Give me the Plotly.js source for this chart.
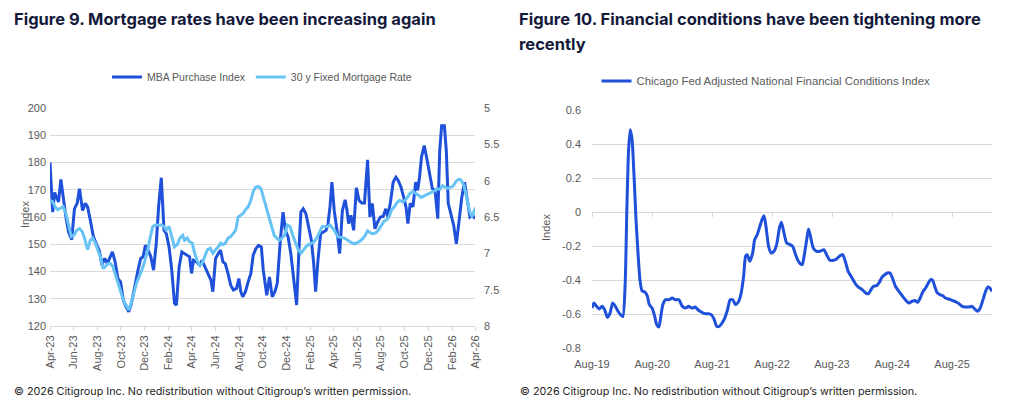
<!DOCTYPE html>
<html>
<head>
<meta charset="utf-8">
<script src="https://cdn.plot.ly/plotly-3.0.1.min.js"></script>
<style>
html,body{margin:0;padding:0;background:#fff;}
#chart{width:1024px;height:399px;}
</style>
</head>
<body>
<div id="chart"></div>
<script>
// ---------- Figure 9 data ----------
const mbaDates = ["2023-04-01","2023-04-08","2023-04-13","2023-04-18","2023-04-23","2023-04-29","2023-05-06","2023-05-12","2023-05-19","2023-05-27","2023-06-03","2023-06-10","2023-06-16","2023-06-24","2023-07-01","2023-07-07","2023-07-14","2023-07-22","2023-07-31","2023-08-06","2023-08-13","2023-08-20","2023-08-27","2023-09-03","2023-09-09","2023-09-16","2023-09-23","2023-09-30","2023-10-07","2023-10-14","2023-10-21","2023-10-28","2023-11-05","2023-11-14","2023-11-21","2023-11-27","2023-12-03","2023-12-10","2023-12-17","2023-12-24","2023-12-31","2024-01-06","2024-01-13","2024-01-20","2024-01-26","2024-02-02","2024-02-09","2024-02-16","2024-02-21","2024-02-28","2024-03-06","2024-03-13","2024-03-20","2024-03-26","2024-03-31","2024-04-05","2024-04-13","2024-04-21","2024-04-27","2024-05-04","2024-05-13","2024-05-20","2024-05-25","2024-06-01","2024-06-08","2024-06-14","2024-06-20","2024-06-26","2024-07-03","2024-07-10","2024-07-17","2024-07-25","2024-07-31","2024-08-05","2024-08-10","2024-08-17","2024-08-24","2024-08-31","2024-09-06","2024-09-13","2024-09-20","2024-09-27","2024-10-02","2024-10-11","2024-10-18","2024-10-25","2024-11-01","2024-11-07","2024-11-15","2024-11-22","2024-11-28","2024-12-05","2024-12-12","2024-12-20","2024-12-27","2025-01-02","2025-01-07","2025-01-13","2025-01-20","2025-01-27","2025-02-03","2025-02-09","2025-02-14","2025-02-20","2025-02-27","2025-03-06","2025-03-13","2025-03-18","2025-03-23","2025-03-28","2025-04-03","2025-04-10","2025-04-17","2025-04-24","2025-05-01","2025-05-06","2025-05-10","2025-05-16","2025-05-23","2025-05-30","2025-06-06","2025-06-13","2025-06-20","2025-06-28","2025-07-04","2025-07-10","2025-07-17","2025-07-24","2025-07-31","2025-08-07","2025-08-14","2025-08-19","2025-08-26","2025-09-02","2025-09-09","2025-09-15","2025-09-22","2025-09-29","2025-10-05","2025-10-10","2025-10-16","2025-10-23","2025-10-30","2025-11-04","2025-11-09","2025-11-14","2025-11-21","2025-11-28","2025-12-05","2025-12-12","2025-12-19","2025-12-26","2025-12-31","2026-01-05","2026-01-12","2026-01-17","2026-01-22","2026-01-29","2026-02-05","2026-02-12","2026-02-19","2026-02-26","2026-03-05","2026-03-12","2026-03-19","2026-03-26","2026-04-01"];
const mbaIndex = [180,161.8,169,167,165.5,173.8,166,160,154.5,151.7,163,165,170.4,162.4,165,163.7,158.8,152.7,149.6,147.8,142.3,144.8,143,145.4,147.2,143.5,137.4,136.2,129.5,127,125.2,128.3,134.4,140.5,144.8,145.4,149.6,147.8,145.4,140.5,150.2,163.7,174.4,155.1,153.9,149,140.5,128.3,127.7,141.7,147.2,146.6,146,145.4,139.3,144.1,143.5,142.3,144.1,141.7,139.3,136.8,132.6,144.8,146.6,147.8,143.5,142.9,139.3,135,133.2,133.8,137.4,132.6,130.7,132.6,136.2,139.3,146,148.4,149.6,149,140.5,131.3,138,130.7,132.6,135.6,151.5,161.8,155.1,152.7,146.6,136.8,127.7,147.8,161.8,163,161.2,156.3,151.5,142.9,132.6,144.1,153.9,154.5,155.1,157.6,163.7,172.8,162.4,155.1,146.6,162.4,166.3,162.4,157.6,160.6,155.1,170.7,166.1,165.1,165.1,181,160,165,155.7,158.2,160,160.2,163,160,165.5,172.8,174.6,173.4,171,167.3,163.7,157.6,165,163.7,172.8,169.8,174.6,182,186.2,181.3,175.2,170.4,169.8,159.4,184.4,193.5,193.5,184.4,165,161.2,157,150.2,158.8,167.3,172.8,166.1,160,160.6,159.4];

const rateDates = ["2023-04-01","2023-04-08","2023-04-14","2023-04-21","2023-04-28","2023-05-05","2023-05-12","2023-05-19","2023-05-26","2023-06-02","2023-06-09","2023-06-16","2023-06-23","2023-06-29","2023-07-07","2023-07-14","2023-07-20","2023-07-27","2023-08-03","2023-08-09","2023-08-16","2023-08-22","2023-08-29","2023-09-04","2023-09-10","2023-09-16","2023-09-23","2023-09-30","2023-10-07","2023-10-14","2023-10-21","2023-10-28","2023-11-04","2023-11-10","2023-11-17","2023-11-24","2023-12-01","2023-12-08","2023-12-15","2023-12-22","2023-12-29","2024-01-06","2024-01-13","2024-01-20","2024-01-26","2024-02-02","2024-02-09","2024-02-16","2024-02-23","2024-03-01","2024-03-08","2024-03-13","2024-03-20","2024-03-26","2024-04-02","2024-04-08","2024-04-15","2024-04-21","2024-04-27","2024-05-04","2024-05-11","2024-05-18","2024-05-25","2024-06-01","2024-06-08","2024-06-14","2024-06-20","2024-06-26","2024-07-03","2024-07-10","2024-07-17","2024-07-23","2024-07-29","2024-08-05","2024-08-11","2024-08-17","2024-08-24","2024-08-31","2024-09-06","2024-09-12","2024-09-19","2024-09-26","2024-10-02","2024-10-09","2024-10-16","2024-10-23","2024-10-30","2024-11-06","2024-11-12","2024-11-19","2024-11-26","2024-12-03","2024-12-10","2024-12-17","2024-12-24","2024-12-31","2025-01-07","2025-01-13","2025-01-20","2025-01-27","2025-02-03","2025-02-10","2025-02-17","2025-02-24","2025-03-03","2025-03-10","2025-03-16","2025-03-23","2025-04-03","2025-04-12","2025-04-21","2025-04-29","2025-05-08","2025-05-16","2025-05-25","2025-06-03","2025-06-11","2025-06-20","2025-06-28","2025-07-05","2025-07-12","2025-07-19","2025-07-26","2025-08-02","2025-08-09","2025-08-16","2025-08-22","2025-08-29","2025-09-05","2025-09-12","2025-09-19","2025-09-26","2025-10-03","2025-10-10","2025-10-16","2025-10-23","2025-10-30","2025-11-06","2025-11-13","2025-11-20","2025-11-27","2025-12-04","2025-12-11","2025-12-18","2025-12-24","2025-12-31","2026-01-07","2026-01-14","2026-01-21","2026-01-28","2026-02-04","2026-02-11","2026-02-18","2026-02-24","2026-03-03","2026-03-10","2026-03-17","2026-03-24","2026-03-31","2026-04-05"];
const rateValues = [6.27,6.29,6.36,6.40,6.38,6.36,6.45,6.63,6.77,6.75,6.68,6.66,6.70,6.79,6.95,6.82,6.79,6.86,6.95,7.05,7.21,7.18,7.14,7.14,7.18,7.28,7.39,7.53,7.64,7.71,7.78,7.67,7.53,7.41,7.32,7.23,7.11,6.98,6.79,6.63,6.61,6.61,6.61,6.63,6.68,6.63,6.79,6.91,6.88,6.79,6.75,6.82,6.79,6.84,6.86,7.0,7.11,7.16,7.14,7.05,6.95,6.93,7.0,6.95,6.91,6.86,6.88,6.86,6.79,6.77,6.72,6.68,6.50,6.47,6.45,6.40,6.36,6.27,6.15,6.09,6.08,6.11,6.22,6.36,6.50,6.63,6.75,6.79,6.82,6.79,6.75,6.61,6.63,6.75,6.86,6.95,7.0,6.95,6.91,6.88,6.86,6.84,6.79,6.70,6.63,6.63,6.63,6.61,6.68,6.77,6.78,6.79,6.82,6.85,6.87,6.85,6.82,6.77,6.69,6.72,6.73,6.72,6.68,6.61,6.56,6.54,6.50,6.40,6.36,6.30,6.27,6.29,6.27,6.22,6.17,6.15,6.17,6.20,6.23,6.21,6.20,6.18,6.15,6.14,6.11,6.12,6.07,6.09,6.11,6.09,6.07,6.01,5.98,5.99,6.06,6.22,6.40,6.50,6.40,6.36];

// ---------- Figure 10 data ----------
const nfciDates = ["2019-08-01","2019-08-13","2019-08-29","2019-09-15","2019-10-01","2019-10-17","2019-11-03","2019-11-19","2019-12-05","2019-12-21","2020-01-07","2020-01-23","2020-02-05","2020-02-19","2020-02-29","2020-03-11","2020-03-21","2020-04-01","2020-04-13","2020-04-25","2020-05-07","2020-05-19","2020-06-01","2020-06-17","2020-07-03","2020-07-15","2020-08-01","2020-08-17","2020-08-29","2020-09-11","2020-09-23","2020-10-05","2020-10-21","2020-11-11","2020-12-01","2020-12-21","2021-01-11","2021-02-01","2021-02-21","2021-03-11","2021-04-01","2021-04-21","2021-05-07","2021-05-27","2021-06-17","2021-07-07","2021-07-27","2021-08-13","2021-08-29","2021-09-15","2021-10-01","2021-10-17","2021-11-03","2021-11-19","2021-12-05","2021-12-21","2022-01-07","2022-01-23","2022-02-09","2022-02-21","2022-03-03","2022-03-19","2022-04-05","2022-04-17","2022-05-03","2022-05-19","2022-06-01","2022-06-13","2022-06-25","2022-07-11","2022-07-27","2022-08-13","2022-08-29","2022-09-15","2022-09-27","2022-10-13","2022-10-29","2022-11-19","2022-12-05","2022-12-19","2023-01-03","2023-01-19","2023-02-01","2023-02-12","2023-02-28","2023-03-11","2023-03-23","2023-04-09","2023-04-29","2023-05-19","2023-06-13","2023-06-29","2023-07-19","2023-08-09","2023-08-29","2023-09-19","2023-10-05","2023-10-21","2023-11-07","2023-11-23","2023-12-09","2023-12-25","2024-01-11","2024-01-27","2024-02-12","2024-02-28","2024-03-11","2024-03-23","2024-04-09","2024-04-29","2024-05-15","2024-06-01","2024-06-17","2024-07-03","2024-07-19","2024-08-05","2024-08-21","2024-09-11","2024-10-01","2024-10-21","2024-11-11","2024-12-01","2024-12-17","2025-01-03","2025-01-19","2025-02-05","2025-02-21","2025-03-07","2025-03-23","2025-04-05","2025-04-17","2025-05-03","2025-05-19","2025-06-05","2025-06-21","2025-07-11","2025-08-01","2025-08-21","2025-09-11","2025-10-01","2025-10-21","2025-11-11","2025-12-01","2025-12-17","2026-01-03","2026-01-19","2026-02-05","2026-02-21","2026-03-07","2026-03-19","2026-04-01"];
const nfciValues = [-0.565,-0.535,-0.555,-0.57,-0.555,-0.575,-0.62,-0.595,-0.535,-0.555,-0.585,-0.605,-0.615,-0.42,0.01,0.37,0.484,0.425,0.21,-0.045,-0.24,-0.40,-0.465,-0.47,-0.495,-0.545,-0.565,-0.615,-0.663,-0.676,-0.614,-0.545,-0.516,-0.516,-0.506,-0.516,-0.516,-0.555,-0.565,-0.555,-0.565,-0.559,-0.575,-0.588,-0.598,-0.598,-0.604,-0.63,-0.672,-0.672,-0.653,-0.624,-0.575,-0.516,-0.516,-0.545,-0.531,-0.486,-0.378,-0.26,-0.251,-0.29,-0.241,-0.163,-0.133,-0.084,-0.045,-0.022,-0.084,-0.202,-0.241,-0.231,-0.192,-0.094,-0.061,-0.124,-0.182,-0.192,-0.202,-0.241,-0.28,-0.304,-0.31,-0.261,-0.163,-0.10,-0.143,-0.212,-0.231,-0.231,-0.222,-0.251,-0.284,-0.284,-0.276,-0.257,-0.251,-0.29,-0.349,-0.375,-0.402,-0.427,-0.443,-0.453,-0.467,-0.48,-0.48,-0.461,-0.437,-0.433,-0.414,-0.382,-0.369,-0.359,-0.359,-0.394,-0.437,-0.467,-0.492,-0.516,-0.535,-0.525,-0.52,-0.531,-0.506,-0.467,-0.447,-0.422,-0.398,-0.402,-0.437,-0.476,-0.486,-0.492,-0.506,-0.512,-0.52,-0.527,-0.539,-0.555,-0.559,-0.559,-0.555,-0.571,-0.584,-0.565,-0.516,-0.467,-0.441,-0.447,-0.467];

const nfciTickVals = [-0.8,-0.6,-0.4,-0.2,0,0.2,0.4,0.6];
const nfciTickText = ["-0.8","-0.6","-0.4","-0.2","0","0.2","0.4","0.6"];

const DARK = "#1f50da";
const LIGHT = "#68c3f5";
const GRID = "#d9d9d9";
const TXT = "#595959";
const TICKFONT = {family: "Liberation Sans, Arial, sans-serif", size: 11, color: TXT};
const LEGFONT = {family: "Liberation Sans, Arial, sans-serif", size: 10.5, color: TXT};
const LEGFONT2 = {family: "Liberation Sans, Arial, sans-serif", size: 11.4, color: TXT};
const TITLEFONT = {family: "Inter, Open Sans, sans-serif", size: 16.5, color: "#141a3c", weight: 700};
const FOOTFONT = {family: "Inter, Open Sans, sans-serif", size: 10.8, color: "#1e1e1e"};

const W = 1024, H = 399;
const px = v => v / W;
const py = v => 1 - v / H;

// right chart y-domain and zero-line position
const y3dom = [py(348), py(110)];
const y3range = [-0.8, 0.6];
const zeroPos = y3dom[0] + (y3dom[1] - y3dom[0]) * (0 - y3range[0]) / (y3range[1] - y3range[0]);

const traces = [
  {x: mbaDates, y: mbaIndex, type: "scatter", mode: "lines", name: "MBA Purchase Index",
   line: {color: DARK, width: 3}, xaxis: "x", yaxis: "y", legend: "legend"},
  {x: rateDates, y: rateValues, type: "scatter", mode: "lines", name: "30 y Fixed Mortgage Rate",
   line: {color: LIGHT, width: 3}, xaxis: "x", yaxis: "y2", legend: "legend"},
  {x: nfciDates, y: nfciValues, type: "scatter", mode: "lines", name: "Chicago Fed Adjusted National Financial Conditions Index",
   line: {color: DARK, width: 3, shape: "spline", smoothing: 0.6}, xaxis: "x3", yaxis: "y3", legend: "legend2"}
];

const layout = {
  width: W, height: H,
  margin: {l: 0, r: 0, t: 0, b: 0},
  paper_bgcolor: "#fff", plot_bgcolor: "#fff",
  showlegend: true,
  xaxis: {
    domain: [px(50), px(475)], anchor: "y", type: "date",
    range: ["2023-04-01", "2026-04-01"], tick0: "2023-04-01", dtick: "M2",
    tickformat: "%b-%y", tickangle: -90, ticks: "outside", ticklen: 4, tickcolor: GRID,
    showline: true, linecolor: GRID, linewidth: 1, showgrid: false, zeroline: false,
    tickfont: TICKFONT
  },
  yaxis: {
    domain: [py(326), py(108)], anchor: "x", range: [120, 200], dtick: 10,
    gridcolor: GRID, gridwidth: 1, zeroline: false, showline: false, ticks: "",
    tickfont: TICKFONT, ticklabelstandoff: 3
  },
  yaxis2: {
    overlaying: "y", side: "right", anchor: "x", range: [8, 5], dtick: 0.5,
    showgrid: false, zeroline: false, showline: false, ticks: "",
    tickfont: TICKFONT, ticklabelstandoff: 8
  },
  xaxis3: {
    domain: [px(592), px(992)], anchor: "free", position: zeroPos, type: "date",
    range: ["2019-08-01", "2026-04-01"], tick0: "2019-08-01", dtick: "M12",
    tickformat: "%b-%y", ticks: "outside", ticklen: 4, tickcolor: GRID,
    showline: false, showgrid: false, zeroline: false,
    tickfont: TICKFONT, ticklabelstandoff: 138
  },
  yaxis3: {
    domain: y3dom, anchor: "x3", range: y3range,
    tickvals: nfciTickVals, ticktext: nfciTickText,
    gridcolor: GRID, gridwidth: 1, zeroline: true, zerolinecolor: GRID, zerolinewidth: 1,
    showline: false, ticks: "", tickfont: TICKFONT, ticklabelstandoff: 10
  },
  legend: {
    orientation: "h", x: px(262), xanchor: "center", y: py(77), yanchor: "middle",
    font: LEGFONT, bgcolor: "rgba(0,0,0,0)", itemwidth: 30, traceorder: "normal"
  },
  legend2: {
    orientation: "h", x: px(766), xanchor: "center", y: py(81), yanchor: "middle",
    font: LEGFONT2, bgcolor: "rgba(0,0,0,0)", itemwidth: 30
  },
  annotations: [
    {text: "Figure 9. Mortgage rates have been increasing again", xref: "paper", yref: "paper",
     x: px(12), y: py(19), xanchor: "left", yanchor: "middle", showarrow: false, font: TITLEFONT},
    {text: "Figure 10. Financial conditions have been tightening more", xref: "paper", yref: "paper",
     x: px(517), y: py(19), xanchor: "left", yanchor: "middle", showarrow: false, font: TITLEFONT},
    {text: "recently", xref: "paper", yref: "paper",
     x: px(517), y: py(44), xanchor: "left", yanchor: "middle", showarrow: false, font: TITLEFONT},
    {text: "Index", xref: "paper", yref: "paper", x: px(25), y: py(215), textangle: -90,
     xanchor: "center", yanchor: "middle", showarrow: false, font: TICKFONT},
    {text: "Index", xref: "paper", yref: "paper", x: px(546), y: py(228), textangle: -90,
     xanchor: "center", yanchor: "middle", showarrow: false, font: TICKFONT},
    {text: "© 2026 Citigroup Inc. No redistribution without Citigroup\u2019s written permission.", xref: "paper", yref: "paper",
     x: px(12), y: py(391), xanchor: "left", yanchor: "middle", showarrow: false, font: FOOTFONT},
    {text: "© 2026 Citigroup Inc. No redistribution without Citigroup\u2019s written permission.", xref: "paper", yref: "paper",
     x: px(518), y: py(391), xanchor: "left", yanchor: "middle", showarrow: false, font: FOOTFONT}
  ]
};

Plotly.newPlot("chart", traces, layout, {staticPlot: true, displayModeBar: false});
</script>
</body>
</html>
